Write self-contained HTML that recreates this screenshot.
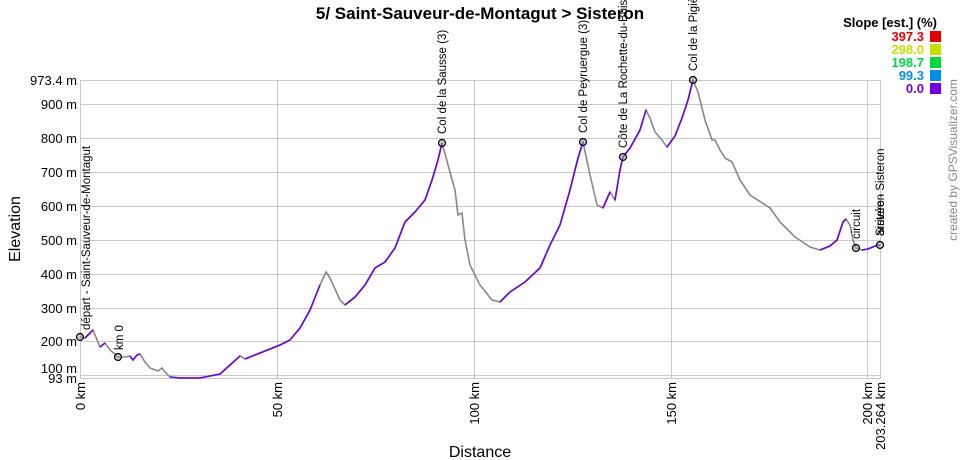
<!DOCTYPE html>
<html><head><meta charset="utf-8"><style>
body{margin:0;background:#fff}
svg{display:block;font-family:"Liberation Sans",Arial,sans-serif}
</style></head><body>
<svg width="960" height="460" viewBox="0 0 960 460" xmlns="http://www.w3.org/2000/svg">
<rect width="960" height="460" fill="#fff"/>
<text x="480" y="19" text-anchor="middle" font-size="17" font-weight="bold">5/ Saint-Sauveur-de-Montagut &gt; Sisteron</text>
<g stroke="#c8c8c8" stroke-width="1" fill="none">
<rect x="80.5" y="80.5" width="800" height="298"/>
<line x1="80" y1="104.5" x2="880" y2="104.5"/>
<line x1="80" y1="138.5" x2="880" y2="138.5"/>
<line x1="80" y1="172.5" x2="880" y2="172.5"/>
<line x1="80" y1="206.5" x2="880" y2="206.5"/>
<line x1="80" y1="240.5" x2="880" y2="240.5"/>
<line x1="80" y1="274.5" x2="880" y2="274.5"/>
<line x1="80" y1="308.5" x2="880" y2="308.5"/>
<line x1="80" y1="341.5" x2="880" y2="341.5"/>
<line x1="80" y1="375.5" x2="880" y2="375.5"/>
<line x1="277.5" y1="80" x2="277.5" y2="378"/>
<line x1="474.5" y1="80" x2="474.5" y2="378"/>
<line x1="671.5" y1="80" x2="671.5" y2="378"/>
<line x1="867.5" y1="80" x2="867.5" y2="378"/>
</g>
<g font-size="13" text-anchor="end">
<text x="77" y="85">973.4 m</text>
<text x="77" y="109">900 m</text>
<text x="77" y="143">800 m</text>
<text x="77" y="177">700 m</text>
<text x="77" y="211">600 m</text>
<text x="77" y="245">500 m</text>
<text x="77" y="279">400 m</text>
<text x="77" y="313">300 m</text>
<text x="77" y="346">200 m</text>
<text x="77" y="373">100 m</text>
<text x="77" y="383">93 m</text>
</g>
<g font-size="13" text-anchor="end">
<text transform="translate(85,382) rotate(-90)">0 km</text>
<text transform="translate(282,382) rotate(-90)">50 km</text>
<text transform="translate(479,382) rotate(-90)">100 km</text>
<text transform="translate(676,382) rotate(-90)">150 km</text>
<text transform="translate(872,382) rotate(-90)">200 km</text>
<text transform="translate(885,382) rotate(-90)">203.264 km</text>
</g>
<text x="480" y="457" text-anchor="middle" font-size="16">Distance</text>
<text transform="translate(20,229) rotate(-90)" text-anchor="middle" font-size="16">Elevation</text>
<text transform="translate(957,160) rotate(-90)" text-anchor="middle" font-size="12" fill="#888">created by GPSVisualizer.com</text>
<text x="937" y="27" text-anchor="end" font-size="13" font-weight="bold">Slope [est.] (%)</text>
<g font-size="13" font-weight="bold" text-anchor="end">
<text x="924" y="41" fill="#e60000">397.3</text><rect x="930" y="31" width="11" height="11" fill="#e60000"/>
<text x="924" y="54" fill="#c8e000">298.0</text><rect x="930" y="44" width="11" height="11" fill="#c8e000"/>
<text x="924" y="67" fill="#00d840">198.7</text><rect x="930" y="57" width="11" height="11" fill="#00d840"/>
<text x="924" y="80" fill="#0090e8">99.3</text><rect x="930" y="70" width="11" height="11" fill="#0090e8"/>
<text x="924" y="93" fill="#7000e0">0.0</text><rect x="930" y="83" width="11" height="11" fill="#7000e0"/>
</g>
<polyline fill="none" stroke="#888" stroke-width="1.6" points="80,337 85,338 90,333 93,330 100,347 105,343 110,350 118,357 125,357 130,356 133,360 137,355 140,354 145,362 150,368 158,371 162,368 165,372 170,377 180,378 200,378 220,374 240,356 245,359 260,353 280,345 290,340 300,328 310,310 320,285 326,272 330,278 340,300 345,305 355,297 365,285 375,268 385,262 395,248 405,222 415,212 425,200 432,180 438,160 442,143 448,165 455,190 458,215 462,213 465,240 470,265 480,285 492,300 500,302 510,292 525,282 540,268 550,245 560,225 570,190 578,158 583,142 590,175 597,205 603,208 610,192 615,200 620,170 623,157 630,148 640,130 646,110 650,118 655,132 662,140 667,147 675,136 682,118 688,100 693,80 698,92 705,120 712,140 715,140 720,150 725,158 732,162 740,180 750,195 770,208 780,222 795,237 810,247 820,250 830,246 837,240 843,222 846,219 850,225 853,240 856,248 862,250 868,249 875,246 880,245"/>
<g fill="none" stroke="#7000e0" stroke-width="1.6">
<polyline points="85,338 90,333 93,330"/>
<polyline points="100,347 105,343"/>
<polyline points="130,356 133,360 137,355 140,354"/>
<polyline points="170,377 180,378 200,378 220,374 240,356"/>
<polyline points="245,359 260,353 280,345 290,340 300,328 310,310 320,285"/>
<polyline points="345,305 355,297 365,285 375,268 385,262 395,248 405,222 415,212 425,200 432,180 438,160 442,143"/>
<polyline points="500,302 510,292 525,282 540,268 550,245 560,225 570,190 578,158 583,142"/>
<polyline points="603,208 610,192"/>
<polyline points="615,200 620,170 623,157 630,148 640,130 646,110"/>
<polyline points="667,147 675,136 682,118 688,100 693,80"/>
<polyline points="820,250 830,246 837,240 843,222 846,219"/>
<polyline points="862,250 868,249 875,246 880,245"/>
</g>
<g fill="#999" fill-opacity="0.5" stroke="#000" stroke-width="1.2">
<circle cx="80" cy="337" r="3.5"/><circle cx="118" cy="357" r="3.5"/>
<circle cx="442" cy="143" r="3.5"/><circle cx="583" cy="142" r="3.5"/>
<circle cx="623" cy="157" r="3.5"/><circle cx="693" cy="80" r="3.5"/>
<circle cx="856" cy="248" r="3.5"/><circle cx="880" cy="245" r="3.5"/>
</g>
<g font-size="11.5">
<text transform="translate(90,330) rotate(-90)">départ - Saint-Sauveur-de-Montagut</text>
<text transform="translate(123,350) rotate(-90)">km 0</text>
<text transform="translate(446,134) rotate(-90)">Col de la Sausse (3)</text>
<text transform="translate(587,133) rotate(-90)">Col de Peyruergue (3)</text>
<text transform="translate(627,148) rotate(-90)">Côte de La Rochette-du-Buis</text>
<text transform="translate(697,71) rotate(-90)">Col de la Pigière</text>
<text transform="translate(860,239) rotate(-90)">circuit</text>
<text transform="translate(884,236) rotate(-90)">arrivée - Sisteron</text>
<text transform="translate(884,236) rotate(-90)">Sisteron</text>
</g>
</svg>
</body></html>
